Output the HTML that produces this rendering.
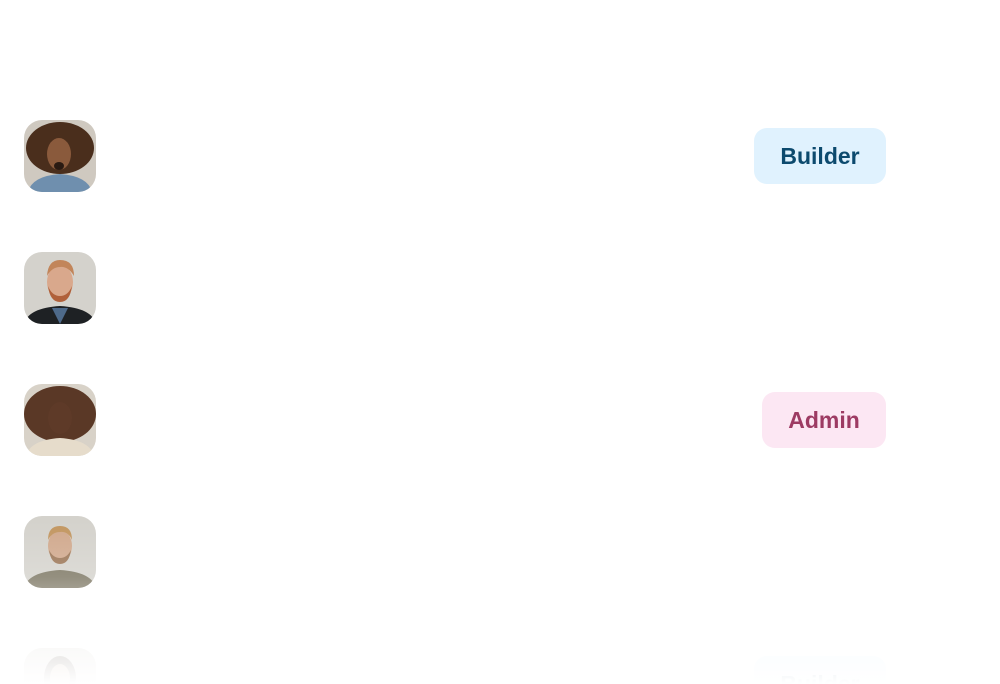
<!DOCTYPE html>
<html><head><meta charset="utf-8"><style>
html,body{margin:0;padding:0;background:#fff;width:1000px;height:684px;overflow:hidden;position:relative;font-family:"Liberation Sans",sans-serif}
.av{position:absolute;left:24px;width:72px;height:72px;border-radius:18px;overflow:hidden}
.av svg{display:block}
.badge{position:absolute;height:56px;border-radius:13px;font-weight:bold;font-size:23px;line-height:56px;text-align:center;overflow:hidden}
.fade{position:absolute;left:0;top:520px;width:1000px;height:164px;background:linear-gradient(to bottom,rgba(255,255,255,0) 0%,rgba(255,255,255,0.2) 35%,rgba(255,255,255,0.88) 80%,#fff 100%)}
</style></head><body>

<div class="av" style="top:120px"><svg width="72" height="72">
<rect width="72" height="72" fill="#cfc9c0"/>
<ellipse cx="36" cy="28" rx="34" ry="26" fill="#4a2e1c"/>
<path d="M4 72 Q8 56 36 54 Q64 56 68 72Z" fill="#6f8fae"/>
<ellipse cx="35" cy="34" rx="12" ry="16" fill="#8a5a3c"/>
<ellipse cx="35" cy="46" rx="5" ry="4" fill="#2a1a12"/>
</svg></div>

<div class="av" style="top:252px"><svg width="72" height="72">
<rect width="72" height="72" fill="#d4d2cc"/>
<path d="M0 72 Q4 56 36 54 Q68 56 72 72Z" fill="#1e2124"/>
<path d="M28 56 L36 72 L44 56Z" fill="#4e6a8a"/>
<ellipse cx="36" cy="30" rx="13" ry="17" fill="#d9a88c"/>
<path d="M23 24 Q24 8 36 8 Q50 8 50 24 Q44 14 36 15 Q28 15 23 24Z" fill="#c2855a"/>
<path d="M24 34 Q26 50 36 50 Q46 50 48 34 Q44 44 36 44 Q28 44 24 34Z" fill="#b0603a"/>
</svg></div>

<div class="av" style="top:384px"><svg width="72" height="72">
<rect width="72" height="72" fill="#d8d2c8"/>
<ellipse cx="36" cy="30" rx="36" ry="28" fill="#5a3826"/>
<path d="M2 72 Q6 56 36 54 Q66 56 70 72Z" fill="#e6dccb"/>
<ellipse cx="36" cy="34" rx="12" ry="16" fill="#5e3a28"/>
</svg></div>

<div class="av" style="top:516px"><svg width="72" height="72">
<rect width="72" height="72" fill="#d4d2cc"/>
<path d="M0 72 Q4 56 36 54 Q68 56 72 72Z" fill="#7a7460"/>
<ellipse cx="36" cy="30" rx="12" ry="16" fill="#d0a88c"/>
<path d="M24 24 Q24 10 36 10 Q48 10 48 24 Q44 15 36 16 Q28 16 24 24Z" fill="#c29660"/>
<path d="M25 34 Q27 48 36 48 Q45 48 47 34 Q43 42 36 42 Q29 42 25 34Z" fill="#9a7454"/>
</svg></div>

<div class="av" style="top:648px;height:36px;border-radius:18px 18px 0 0"><svg width="72" height="72">
<rect width="72" height="72" fill="#dcd8d2"/>
<ellipse cx="36" cy="30" rx="16" ry="22" fill="#4a3a30"/>
<ellipse cx="36" cy="30" rx="10" ry="14" fill="#c8a890"/>
</svg></div>

<div class="badge" style="left:754px;top:128px;width:132px;background:#e0f2fe;color:#0c4a6e">Builder</div>
<div class="badge" style="left:762px;top:392px;width:124px;background:#fce7f3;color:#9d3b63">Admin</div>
<div class="badge" style="left:754px;top:656px;width:132px;height:28px;border-radius:13px 13px 0 0;background:#e0f2fe;color:#0c4a6e">Builder</div>

<div class="fade"></div>
</body></html>
